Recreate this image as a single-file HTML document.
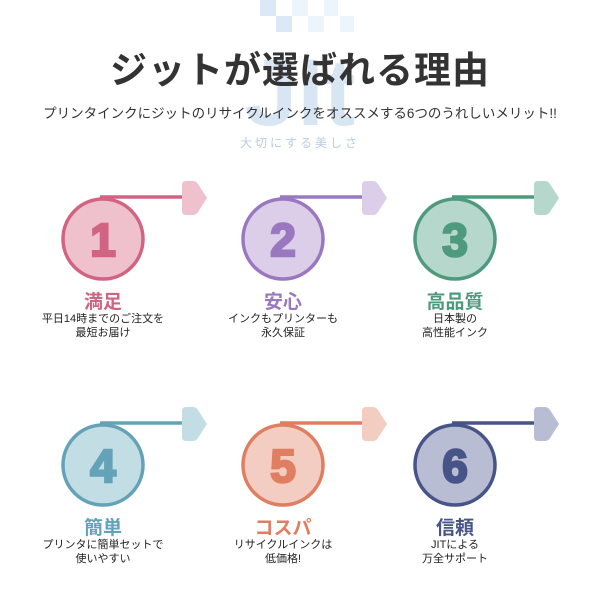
<!DOCTYPE html>
<html><head><meta charset="utf-8"><style>
body{margin:0;width:600px;height:600px;background:#fff;position:relative;overflow:hidden;font-family:"Liberation Sans","Noto Sans CJK JP",sans-serif}
.a{position:absolute;white-space:nowrap}
.c{text-align:center;transform:translateX(-50%)}
.t{font-weight:bold;font-size:19px}
.d{font-size:11px;color:#222;line-height:14px}
</style></head><body>
<svg class="a" style="left:0;top:0" width="600" height="600">
<g fill="#dbe8f5"><rect x="260" y="0" width="16" height="16"/><rect x="292" y="0" width="16" height="16" fill="#eef4fb"/><rect x="276" y="16" width="16" height="16"/><rect x="308" y="16" width="16" height="16" fill="#eef4fb"/><rect x="324" y="0" width="14" height="16" fill="#eef4fb"/><rect x="340" y="16" width="14" height="16" fill="#eef4fb"/></g>
<text x="300" y="125" font-size="95" font-family="Liberation Sans" fill="#c8dbee" text-anchor="middle" font-weight="bold" opacity="0.7">JIt</text>
<g stroke-width="3.5">
<g><line x1="100" y1="197" x2="185" y2="197" stroke="#d06482"/><path d="M182 185 Q182 181 186 181 L193 181 Q196 181 198 184 L207 198 L198 212 Q196 215 193 215 L186 215 Q182 215 182 211Z" fill="#efc1cd" stroke="none"/><circle cx="103" cy="239" r="40" fill="#efc1cd" stroke="#d06482"/></g>
<g><line x1="280" y1="197" x2="365" y2="197" stroke="#9a78c0"/><path d="M362 185 Q362 181 366 181 L373 181 Q376 181 378 184 L387 198 L378 212 Q376 215 373 215 L366 215 Q362 215 362 211Z" fill="#dccde8" stroke="none"/><circle cx="283" cy="239" r="40" fill="#dccde8" stroke="#9a78c0"/></g>
<g><line x1="452" y1="197" x2="537" y2="197" stroke="#4e9a7e"/><path d="M534 185 Q534 181 538 181 L545 181 Q548 181 550 184 L559 198 L550 212 Q548 215 545 215 L538 215 Q534 215 534 211Z" fill="#b6d8cc" stroke="none"/><circle cx="455" cy="239" r="40" fill="#b6d8cc" stroke="#4e9a7e"/></g>
<g><line x1="100" y1="423" x2="185" y2="423" stroke="#64a2b8"/><path d="M182 411 Q182 407 186 407 L193 407 Q196 407 198 410 L207 424 L198 438 Q196 441 193 441 L186 441 Q182 441 182 437Z" fill="#c2dde4" stroke="none"/><circle cx="103" cy="465" r="40" fill="#c2dde4" stroke="#64a2b8"/></g>
<g><line x1="280" y1="423" x2="365" y2="423" stroke="#e07e62"/><path d="M362 411 Q362 407 366 407 L373 407 Q376 407 378 410 L387 424 L378 438 Q376 441 373 441 L366 441 Q362 441 362 437Z" fill="#f4cdc2" stroke="none"/><circle cx="283" cy="465" r="40" fill="#f4cdc2" stroke="#e07e62"/></g>
<g><line x1="452" y1="423" x2="537" y2="423" stroke="#475488"/><path d="M534 411 Q534 407 538 407 L545 407 Q548 407 550 410 L559 424 L550 438 Q548 441 545 441 L538 441 Q534 441 534 437Z" fill="#b8bdd4" stroke="none"/><circle cx="455" cy="465" r="40" fill="#b8bdd4" stroke="#475488"/></g>
</g>
<g font-size="46" font-weight="bold" text-anchor="middle" font-family="Liberation Sans" stroke-width="2.5">
<text x="103" y="256" fill="#d06482" stroke="#d06482">1</text><text x="283" y="256" fill="#9a78c0" stroke="#9a78c0">2</text><text x="455" y="256" fill="#4e9a7e" stroke="#4e9a7e">3</text>
<text x="103" y="482" fill="#64a2b8" stroke="#64a2b8">4</text><text x="283" y="482" fill="#e07e62" stroke="#e07e62">5</text><text x="455" y="482" fill="#475488" stroke="#475488">6</text>
</g>
</svg>
<div class="a c" style="left:300px;top:40px;font-size:37px;font-weight:bold;color:#333;letter-spacing:1px">ジットが選ばれる理由</div>
<div class="a c" style="left:300px;top:102px;font-size:13.5px;color:#333">プリンタインクにジットのリサイクルインクをオススメする6つのうれしいメリット!!</div>
<div class="a c" style="left:300px;top:134px;font-size:12px;color:#b7cde6;letter-spacing:3px">大切にする美しさ</div>

<div class="a c t" style="left:103px;top:287px;color:#d06482">満足</div>
<div class="a c d" style="left:103px;top:312px">平日14時までのご注文を<br>最短お届け</div>
<div class="a c t" style="left:283px;top:287px;color:#9a78c0">安心</div>
<div class="a c d" style="left:283px;top:312px">インクもプリンターも<br>永久保証</div>
<div class="a c t" style="left:455px;top:287px;color:#4e9a7e">高品質</div>
<div class="a c d" style="left:455px;top:312px">日本製の<br>高性能インク</div>
<div class="a c t" style="left:103px;top:513px;color:#64a2b8">簡単</div>
<div class="a c d" style="left:103px;top:538px">プリンタに簡単セットで<br>使いやすい</div>
<div class="a c t" style="left:283px;top:513px;color:#e07e62">コスパ</div>
<div class="a c d" style="left:283px;top:538px">リサイクルインクは<br>低価格!</div>
<div class="a c t" style="left:455px;top:513px;color:#475488">信頼</div>
<div class="a c d" style="left:455px;top:538px">JITによる<br>万全サポート</div>
</body></html>
